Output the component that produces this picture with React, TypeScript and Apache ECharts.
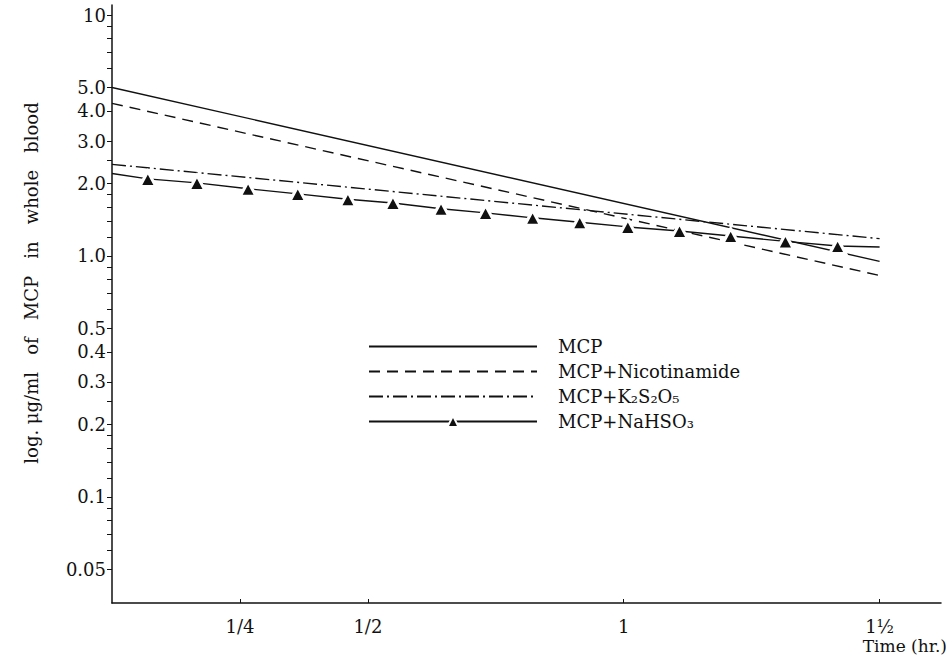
import React, { useEffect, useRef } from 'react';
import * as echarts from 'echarts';

// ---- data ----
const seriesNames = ['MCP', 'MCP+Nicotinamide', 'MCP+K₂S₂O₅', 'MCP+NaHSO₃'];

const lineTimes = [0, 1.5];
const mcpValues = [5.0, 0.95];
const nicotinamideValues = [4.3, 0.83];
const k2s2o5Values = [2.4, 1.18];

const nahso3Times = [0, 0.07, 0.166, 0.266, 0.363, 0.461, 0.549, 0.643, 0.73, 0.822, 0.914, 1.008, 1.109, 1.209, 1.316, 1.418, 1.5];
const nahso3Values = [2.2, 2.09, 2.01, 1.9, 1.81, 1.72, 1.66, 1.57, 1.51, 1.44, 1.38, 1.32, 1.27, 1.21, 1.15, 1.1, 1.09];

const yTickValues = [10, 5, 4, 3, 2, 1, 0.5, 0.4, 0.3, 0.2, 0.1, 0.05];
const yTickLabels = ['10', '5.0', '4.0', '3.0', '2.0', '1.0', '0.5', '0.4', '0.3', '0.2', '0.1', '0.05'];
const yMinorTickValues = [9, 8, 7, 6, 2.5, 1.8, 1.6, 1.4, 1.2, 0.9, 0.8, 0.7, 0.6, 0.25, 0.18, 0.16, 0.14, 0.12, 0.09, 0.08, 0.07, 0.06];

const xTickValues = [0.25, 0.5, 1, 1.5];
const xTickLabels = ['1/4', '1/2', '1', '1½'];

const yAxisName = 'log. μg/ml   of   MCP   in   whole   blood';
const xAxisName = 'Time (hr.)';

// log-space axis range
const Y_MIN = -1.44;
const Y_MAX = 1.0415;

const FONT = 'DejaVu Serif';
const INK = '#111';

const lg = (v: number) => Math.log10(v);
const pts = (ts: number[], vs: number[]) => ts.map((t, i) => [t, lg(vs[i])]);

export default function App() {
  const ref = useRef<HTMLDivElement>(null);

  useEffect(() => {
    if (!ref.current) return;
    const chart = echarts.init(ref.current, undefined, { renderer: 'svg' });

    const yLabelFor = (v: number) => {
      const idx = yTickValues.findIndex((t) => Math.abs(lg(t) - v) < 1e-6);
      return idx >= 0 ? yTickLabels[idx] : '';
    };
    const xLabelFor = (v: number) => {
      const idx = xTickValues.findIndex((t) => Math.abs(t - v) < 1e-6);
      return idx >= 0 ? xTickLabels[idx] : '';
    };

    const baseLine = { color: INK, width: 1.4 };
    const allYTicks = yTickValues.concat(yMinorTickValues).map(lg);

    chart.setOption({
      animation: false,
      backgroundColor: '#fff',
      grid: { left: 112, right: 10, top: 5, bottom: 55, containLabel: false },
      legend: {
        orient: 'vertical',
        left: 363,
        top: 329,
        itemWidth: 168,
        itemHeight: 14,
        itemGap: 0,
        selectedMode: false,
        data: seriesNames.map((n, i) =>
          i < 3 ? { name: n, itemStyle: { opacity: 0 } } : { name: n }
        ),
        textStyle: {
          fontFamily: FONT,
          fontSize: 18,
          lineHeight: 18,
          color: INK,
          padding: [0, 0, 7, 16],
        },
      },
      xAxis: {
        type: 'value',
        min: 0,
        max: 1.62,
        axisLine: { show: true, onZero: false, lineStyle: { color: INK, width: 1.5 } },
        splitLine: { show: false },
        axisTick: {
          show: true,
          inside: true,
          length: 4,
          customValues: xTickValues,
          lineStyle: { color: INK, width: 1 },
        },
        axisLabel: {
          customValues: xTickValues,
          formatter: (v: number) => xLabelFor(v),
          fontFamily: FONT,
          fontSize: 18,
          color: INK,
          margin: 14,
        },
        name: xAxisName,
        nameLocation: 'end',
        nameGap: 6,
        nameTextStyle: {
          fontFamily: FONT,
          fontSize: 17,
          color: INK,
          align: 'right',
          verticalAlign: 'top',
          padding: [34, 0, 0, 0],
        },
      },
      yAxis: {
        type: 'value',
        min: Y_MIN,
        max: Y_MAX,
        axisLine: { show: true, onZero: false, lineStyle: { color: INK, width: 1.5 } },
        splitLine: { show: false },
        axisTick: {
          show: true,
          inside: false,
          length: 5,
          customValues: allYTicks,
          lineStyle: { color: INK, width: 1 },
        },
        axisLabel: {
          customValues: yTickValues.map(lg),
          formatter: (v: number) => yLabelFor(v),
          fontFamily: FONT,
          fontSize: 18,
          color: INK,
          margin: 6,
        },
        name: yAxisName,
        nameLocation: 'middle',
        nameGap: 72,
        nameTextStyle: {
          fontFamily: FONT,
          fontSize: 18,
          color: INK,
          padding: [0, 0, 0, 42],
        },
      },
      series: [
        {
          name: seriesNames[0],
          type: 'line',
          data: pts(lineTimes, mcpValues),
          symbol: 'none',
          lineStyle: { ...baseLine, type: 'solid' },
          itemStyle: { color: INK },
        },
        {
          name: seriesNames[1],
          type: 'line',
          data: pts(lineTimes, nicotinamideValues),
          symbol: 'none',
          lineStyle: { ...baseLine, type: [11, 7] },
          itemStyle: { color: INK },
        },
        {
          name: seriesNames[2],
          type: 'line',
          data: pts(lineTimes, k2s2o5Values),
          symbol: 'none',
          lineStyle: { ...baseLine, type: [14, 4, 2, 4] },
          itemStyle: { color: INK },
        },
        {
          name: seriesNames[3],
          type: 'line',
          data: nahso3Times.map((t, i) => ({
            value: [t, lg(nahso3Values[i])],
            symbol: i === 0 || i === nahso3Times.length - 1 ? 'none' : 'triangle',
          })),
          symbol: 'triangle',
          symbolSize: [16, 15],
          showSymbol: true,
          showAllSymbol: true,
          lineStyle: { ...baseLine, type: 'solid' },
          itemStyle: { color: INK, borderColor: '#fff', borderWidth: 3 },
        },
      ],
    });

    return () => chart.dispose();
  }, []);

  return (
    <div
      ref={ref}
      style={{ position: 'absolute', left: 0, top: 0, width: 951, height: 658 }}
    />
  );
}
